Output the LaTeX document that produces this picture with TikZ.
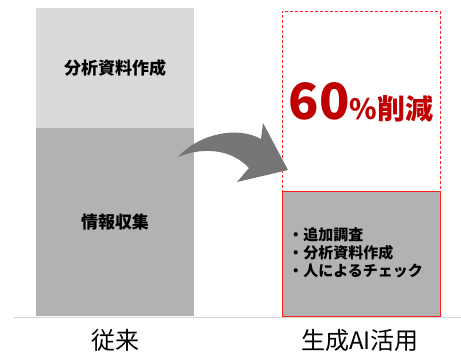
\documentclass[tikz,border=0pt]{standalone}
\usepackage{fontspec}
\setmainfont{Noto Sans CJK JP}
\usetikzlibrary{positioning}
\definecolor{lightbar}{HTML}{D9D9D9}
\definecolor{darkbar}{HTML}{B2B2B2}
\definecolor{arrowgray}{HTML}{767676}
\definecolor{cutred}{HTML}{C00000}
\definecolor{boxred}{HTML}{FF2020}
\definecolor{linegray}{HTML}{D4D4D4}

\begin{document}
\begin{tikzpicture}[x=1pt,y=-1pt,thick,
    bar node/.style={rectangle,inner sep=0pt,outer sep=0pt,minimum width=158pt},
    task label/.style={font=\fontsize{17}{17}\selectfont\bfseries},
    axis label/.style={font=\fontsize{24}{24}\selectfont}]

            \useasboundingbox (0,0) rectangle (461,361);

            % 従来
            \node[bar node,fill=lightbar,minimum height=120pt] (analysis) at (115,68) {};
            \node[bar node,fill=darkbar,minimum height=188pt] (collect) at (115,222) {};
            \node[task label] (analysislabel) at (analysis.center) {分析資料作成};
            \node[task label] (collectlabel) at (collect.center) {情報収集};

            % 生成AI活用
            \node[bar node,draw=boxred,dash pattern=on 3pt off 2pt,line width=0.8pt,minimum height=180pt] (saved) at (361,101) {};
            \node[bar node,draw=boxred,fill=darkbar,line width=1pt,minimum height=125pt] (remain) at (361,253.5) {};
            \node[text=cutred,font=\bfseries,inner sep=0pt] (cut) at (361,102)
                {\fontsize{50}{50}\selectfont 60\fontsize{28}{28}\selectfont\%削減};
            \node[font=\fontsize{15}{18}\selectfont\bfseries,align=left,anchor=west,inner sep=0pt] (tasks) at (288,253)
                {・追加調査\\・分析資料作成\\・人によるチェック};

            % 基準線とラベル
            \coordinate (lineleft) at (14,317);
            \coordinate (lineright) at (461,317);
            \draw[linegray,line width=1pt] (lineleft) -- (lineright);
            \node[axis label] (before) at (115,340) {従来};
            \node[axis label] (after) at (360,340) {生成AI活用};

            % 矢印
            \fill[arrowgray] (178,157) .. controls (200,133) and (238,126) .. (261,139)
                -- (263,123) -- (288,170) -- (237,182) -- (249,168)
                .. controls (232,150) and (205,146) .. cycle;
        \end{tikzpicture}
\end{document}
